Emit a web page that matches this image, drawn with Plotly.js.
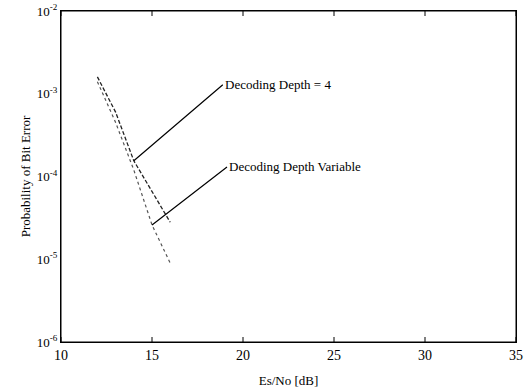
<!DOCTYPE html>
<html>
<head>
<meta charset="utf-8">
<script src="https://cdn.plot.ly/plotly-3.0.1.min.js"></script>
<style>html,body{margin:0;padding:0;background:#fff;}#chart{width:525px;height:392px;}</style>
</head>
<body>
<div id="chart"></div>
<script>
// Data
const esNo = [12, 13, 14, 15, 16];
const depth4 = [1.6e-3, 6.0e-4, 1.55e-4, 6.5e-5, 2.8e-5];
const depthVariable = [1.4e-3, 4.5e-4, 1.2e-4, 2.6e-5, 9.0e-6];
const xTickVals = [10, 15, 20, 25, 30, 35];
const yTickVals = [1e-6, 1e-5, 1e-4, 1e-3, 1e-2];
const yTickText = ['10<sup>-6</sup>', '10<sup>-5</sup>', '10<sup>-4</sup>', '10<sup>-3</sup>', '10<sup>-2</sup>'];
const yMinorTickVals = [
  2e-6, 3e-6, 4e-6, 5e-6, 6e-6, 7e-6, 8e-6, 9e-6,
  2e-5, 3e-5, 4e-5, 5e-5, 6e-5, 7e-5, 8e-5, 9e-5,
  2e-4, 3e-4, 4e-4, 5e-4, 6e-4, 7e-4, 8e-4, 9e-4,
  2e-3, 3e-3, 4e-3, 5e-3, 6e-3, 7e-3, 8e-3, 9e-3
];
const labelDepth4 = 'Decoding Depth = 4';
const labelVariable = 'Decoding Depth Variable';

const fam = '"Liberation Serif", "DejaVu Serif", serif';
const font = {family: fam, size: 13, color: '#000'};

const traces = [
  {x: esNo, y: depth4, mode: 'lines', line: {color: '#222', width: 1.3, dash: '4px,2px'}, name: labelDepth4},
  {x: esNo, y: depthVariable, mode: 'lines', line: {color: '#555', width: 1.2, dash: 'dot'}, name: labelVariable}
];

// Inside tick marks on all four sides, built from the tick arrays
const plotW = 525 - 61 - 9, plotH = 392 - 11 - 50;
const tickLine = {color: '#000', width: 1};
function yTick(v, len, right) {
  const f = len / plotW;
  return {type: 'line', xref: 'paper', yref: 'y', layer: 'above', line: tickLine,
          x0: right ? 1 - f : 0, x1: right ? 1 : f, y0: Math.log10(v), y1: Math.log10(v)};
}
function xTick(v, len, top) {
  const f = len / plotH;
  return {type: 'line', xref: 'x', yref: 'paper', layer: 'above', line: tickLine,
          x0: v, x1: v, y0: top ? 1 - f : 0, y1: top ? 1 : f};
}
const tickShapes = [
  // plot frame
  {type: 'rect', xref: 'paper', yref: 'paper', x0: 0, x1: 1, y0: 0, y1: 1, layer: 'above',
   line: {color: '#000', width: 1}, fillcolor: 'rgba(0,0,0,0)'}
];
[false, true].forEach(side => {
  yTickVals.forEach(v => tickShapes.push(yTick(v, 7, side)));
  yMinorTickVals.forEach(v => tickShapes.push(yTick(v, 4, side)));
  xTickVals.forEach(v => tickShapes.push(xTick(v, 5, side)));
});

const layout = {
  width: 525, height: 392,
  margin: {l: 61, r: 9, t: 11, b: 50},
  paper_bgcolor: '#fff', plot_bgcolor: '#fff',
  showlegend: false,
  font: font,
  xaxis: {
    range: [10, 35], tickmode: 'array', tickvals: xTickVals, ticks: '', mirror: 'all',
    showline: true, linecolor: '#000', linewidth: 1, showgrid: false, zeroline: false,
    tickfont: {family: fam, size: 14, color: '#000'},
    title: {text: 'Es/No [dB]', font: {family: fam, size: 13, color: '#000'}, standoff: 14}
  },
  yaxis: {
    type: 'log', range: [-6, -2], tickmode: 'array', tickvals: yTickVals, ticktext: yTickText,
    ticks: '', mirror: 'all',
    showline: true, linecolor: '#000', linewidth: 1, showgrid: false, zeroline: false,
    tickfont: {family: fam, size: 13, color: '#000'},
    title: {text: 'Probability of Bit Error', font: {family: fam, size: 13, color: '#000'}, standoff: 3}
  },
  shapes: tickShapes,
  annotations: [
    {x: esNo[2], y: Math.log10(depth4[2]), xref: 'x', yref: 'y', text: labelDepth4,
     showarrow: true, arrowhead: 0, arrowwidth: 1.2, arrowcolor: '#000', ax: 89, ay: -76,
     xanchor: 'left', yanchor: 'middle', font: font},
    {x: esNo[3], y: Math.log10(depthVariable[3]), xref: 'x', yref: 'y', text: labelVariable,
     showarrow: true, arrowhead: 0, arrowwidth: 1.2, arrowcolor: '#000', ax: 75, ay: -58,
     xanchor: 'left', yanchor: 'middle', font: font}
  ]
};

Plotly.newPlot('chart', traces, layout, {staticPlot: true, displayModeBar: false});
</script>
</body>
</html>
